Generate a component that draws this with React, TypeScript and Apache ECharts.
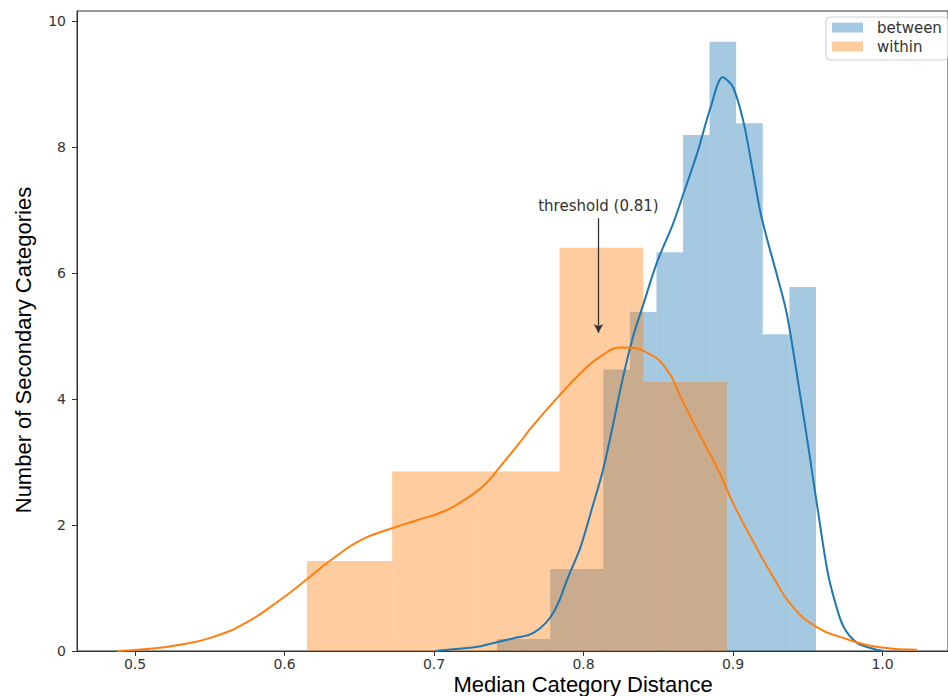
import React, { useEffect, useRef } from "react";
import * as echarts from "echarts";

// ---- data ----
const withinEdges = [0.615, 0.672, 0.728, 0.784, 0.84, 0.896];
const withinHeights = [1.43, 2.85, 2.85, 6.4, 4.27];

const betweenEdges = [0.7421, 0.7599, 0.7777, 0.7955, 0.8132, 0.831, 0.8488, 0.8666, 0.8843, 0.9021, 0.9199, 0.9377, 0.9555];
const betweenHeights = [0.19, 0.19, 1.3, 1.3, 4.47, 5.38, 6.33, 8.19, 9.67, 8.38, 5.03, 5.78];

const betweenKdeX = [0.701, 0.715, 0.73, 0.742, 0.753, 0.764, 0.771, 0.778, 0.784, 0.789, 0.798, 0.806, 0.813, 0.82, 0.826, 0.833, 0.84, 0.849, 0.86, 0.867, 0.876, 0.885, 0.893, 0.9, 0.907, 0.913, 0.918, 0.923, 0.929, 0.936, 0.945, 0.95, 0.956, 0.963, 0.968, 0.974, 0.983, 0.996, 1.001];
const betweenKdeY = [0.0, 0.03, 0.07, 0.14, 0.2, 0.26, 0.36, 0.54, 0.81, 1.13, 1.65, 2.29, 2.87, 3.62, 4.3, 4.98, 5.5, 6.16, 6.79, 7.27, 7.9, 8.63, 9.11, 8.95, 8.4, 7.65, 7.0, 6.52, 6.0, 5.35, 4.05, 3.3, 2.35, 1.29, 0.8, 0.38, 0.13, 0.02, 0.0];

const withinKdeX = [0.488, 0.508, 0.53, 0.552, 0.575, 0.597, 0.615, 0.632, 0.651, 0.671, 0.689, 0.706, 0.719, 0.733, 0.744, 0.756, 0.767, 0.784, 0.798, 0.811, 0.826, 0.843, 0.856, 0.865, 0.878, 0.891, 0.9, 0.913, 0.927, 0.94, 0.956, 0.972, 0.998, 1.023];
const withinKdeY = [0.0, 0.03, 0.1, 0.22, 0.46, 0.81, 1.14, 1.46, 1.76, 1.94, 2.08, 2.21, 2.38, 2.62, 2.92, 3.27, 3.6, 4.06, 4.41, 4.67, 4.82, 4.73, 4.46, 4.03, 3.42, 2.83, 2.35, 1.76, 1.17, 0.7, 0.38, 0.22, 0.06, 0.02];

const xTicks = [0.5, 0.6, 0.7, 0.8, 0.9, 1.0];
const yTicks = [0, 2, 4, 6, 8, 10];

const thresholdValue = 0.81;
const thresholdText = "threshold (0.81)";
const thresholdTextY = 7.06;
const arrowFromY = 6.87;
const arrowToY = 5.05;

const seriesNames = ["between", "within"];
const xTitle = "Median Category Distance";
const yTitle = "Number of Secondary Categories";

const BLUE = "#1f77b4";
const ORANGE = "#ff7f0e";
const BLUE_FILL = "rgba(31,119,180,0.4)";
const ORANGE_FILL = "rgba(255,127,14,0.4)";

function histData(edges: number[], heights: number[]) {
  return heights.map((h, i) => [edges[i], edges[i + 1], h]);
}

function histSeries(name: string, edges: number[], heights: number[], fill: string, z: number) {
  return {
    type: "custom",
    name,
    z,
    itemStyle: { color: fill },
    encode: { x: [0, 1], y: 2 },
    data: histData(edges, heights),
    renderItem: (params: any, api: any) => {
      const p0 = api.coord([api.value(0), api.value(2)]);
      const p1 = api.coord([api.value(1), 0]);
      return {
        type: "rect",
        shape: { x: p0[0], y: p0[1], width: p1[0] - p0[0], height: p1[1] - p0[1] },
        style: { fill },
      };
    },
  };
}

export default function App() {
  const ref = useRef<HTMLDivElement>(null);
  useEffect(() => {
    if (!ref.current) return;
    const chart = echarts.init(ref.current, undefined, { renderer: "svg" });
    const tickFont = { fontSize: 14, fontFamily: "DejaVu Sans", color: "#333" };
    chart.setOption({
      animation: false,
      grid: { left: 77, top: 11, right: 0, bottom: 45, show: true, borderColor: "#333", borderWidth: 1 },
      xAxis: {
        type: "value",
        min: 0.4612,
        max: 1.0438,
        axisLine: { show: true, lineStyle: { color: "#333", width: 1 } },
        axisTick: { show: true, length: 5, customValues: xTicks, lineStyle: { color: "#333" } },
        axisLabel: { ...tickFont, margin: 6, lineHeight: 14, customValues: xTicks, formatter: (v: number) => v.toFixed(1) },
        splitLine: { show: false },
      },
      yAxis: {
        type: "value",
        min: 0,
        max: 10.16,
        axisLine: { show: true, lineStyle: { color: "#333", width: 1 } },
        axisTick: { show: true, length: 5, customValues: yTicks, lineStyle: { color: "#333" } },
        axisLabel: { ...tickFont, margin: 11, customValues: yTicks, formatter: (v: number) => String(v) },
        splitLine: { show: false },
      },
      legend: {
        data: seriesNames,
        orient: "vertical",
        left: 826,
        top: 17,
        padding: [3, 6, 6, 6],
        itemWidth: 31,
        itemHeight: 10,
        itemGap: 4,
        icon: "rect",
        borderColor: "#d0d0d0",
        borderWidth: 1,
        borderRadius: 4,
        backgroundColor: "#fff",
        textStyle: { fontSize: 15, fontFamily: "DejaVu Sans", color: "#333", padding: [0, 0, 0, 9] },
      },
      graphic: [
        {
          type: "text",
          x: 583,
          y: 684.5,
          style: { text: xTitle, fontSize: 22, fontFamily: "Liberation Sans", fill: "#000", align: "center", verticalAlign: "middle" },
        },
        {
          type: "text",
          x: 23,
          y: 350,
          rotation: Math.PI / 2,
          style: { text: yTitle, fontSize: 22, fontFamily: "Liberation Sans", fill: "#000", align: "center", verticalAlign: "middle" },
        },
      ],
      series: [
        histSeries(seriesNames[0], betweenEdges, betweenHeights, BLUE_FILL, 2),
        histSeries(seriesNames[1], withinEdges, withinHeights, ORANGE_FILL, 3),
        {
          type: "line",
          name: "between-kde",
          z: 4,
          showSymbol: false,
          smooth: 0.3,
          lineStyle: { color: BLUE, width: 2 },
          itemStyle: { color: BLUE },
          data: betweenKdeX.map((x, i) => [x, betweenKdeY[i]]),
        },
        {
          type: "line",
          name: "within-kde",
          z: 5,
          showSymbol: false,
          smooth: 0.5,
          lineStyle: { color: ORANGE, width: 2 },
          itemStyle: { color: ORANGE },
          data: withinKdeX.map((x, i) => [x, withinKdeY[i]]),
        },
        {
          type: "line",
          name: "annotation",
          z: 6,
          data: [],
          markLine: {
            silent: true,
            symbol: ["none", "arrow"],
            symbolSize: [7, 9],
            lineStyle: { color: "#333", width: 1.3, type: "solid" },
            label: { show: false },
            data: [[{ coord: [thresholdValue, arrowFromY] }, { coord: [thresholdValue, arrowToY] }]],
          },
          markPoint: {
            silent: true,
            symbol: "circle",
            symbolSize: 1,
            itemStyle: { color: "rgba(0,0,0,0)" },
            label: { show: true, position: "inside", formatter: thresholdText, fontSize: 15, fontFamily: "DejaVu Sans", color: "#333" },
            data: [{ coord: [thresholdValue, thresholdTextY] }],
          },
        },
      ],
    });
    return () => chart.dispose();
  }, []);
  return (
    <div style={{ position: "absolute", left: 0, top: 0, width: 948, height: 696, background: "#fff" }}>
      <div ref={ref} style={{ width: 948, height: 696 }} />
    </div>
  );
}
